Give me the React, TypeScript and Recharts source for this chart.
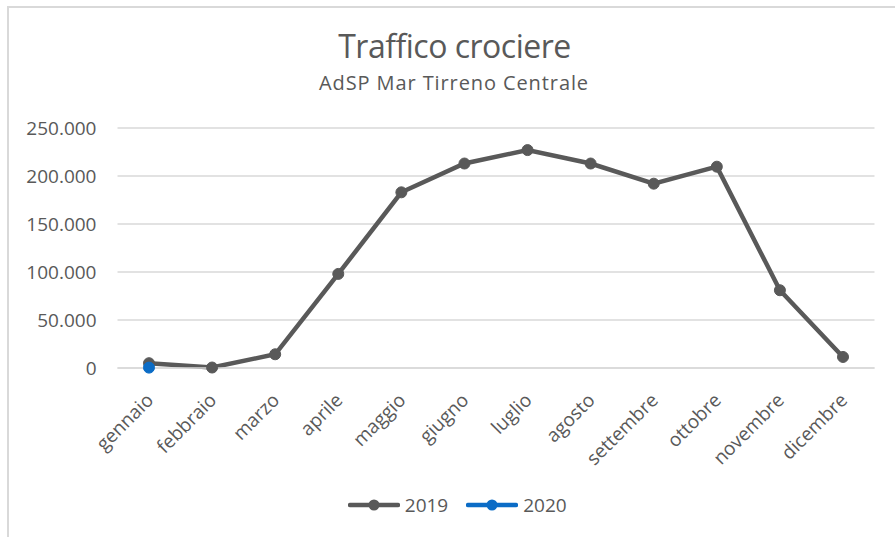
import React from 'react';
import { LineChart, Line, XAxis, YAxis, CartesianGrid, Legend } from 'recharts';

const months = ['gennaio', 'febbraio', 'marzo', 'aprile', 'maggio', 'giugno', 'luglio', 'agosto', 'settembre', 'ottobre', 'novembre', 'dicembre'];
const values2019 = [5000, 500, 14300, 98000, 183000, 213000, 227000, 213000, 192000, 209700, 81000, 11500];
const values2020: (number | null)[] = [400, null, null, null, null, null, null, null, null, null, null, null];
const yTicks = [0, 50000, 100000, 150000, 200000, 250000];
const seriesNames = ['2019', '2020'];
const colors = ['#595959', '#0B6CC6'];

const data = months.map((m, i) => ({ month: m, y2019: values2019[i], y2020: values2020[i] }));

const fmt = (v: number) => String(v).replace(/\B(?=(\d{3})+(?!\d))/g, '.');

const FONT = '"Open Sans", sans-serif';
const TEXT = '#595959';

const XTick = (props: any) => {
  const { x, y, payload } = props;
  return (
    <g transform={`translate(${x - 3},${y + 17})`}>
      <text x={0} y={0} dy={12} textAnchor="end" transform="rotate(-45)" fill={TEXT} fontSize={19} fontFamily={FONT}>
        {payload.value}
      </text>
    </g>
  );
};

const LegendContent = () => (
  <div style={{ height: 30, display: 'flex', justifyContent: 'center', alignItems: 'center', paddingLeft: 40, fontFamily: FONT, fontSize: 19, color: TEXT }}>
    {seriesNames.map((n, i) => (
      <div key={n} style={{ display: 'flex', alignItems: 'center', marginRight: i === 0 ? 18 : 0 }}>
        <svg width={52} height={14} style={{ marginRight: 5 }}>
          <line x1={2} y1={7} x2={50} y2={7} stroke={colors[i]} strokeWidth={4.5} strokeLinecap="round" />
          <circle cx={26} cy={7} r={5.5} fill={colors[i]} />
        </svg>
        <span>{n}</span>
      </div>
    ))}
  </div>
);

export default function App() {
  return (
    <div style={{ position: 'absolute', left: 0, top: 0, width: 895, height: 537, overflow: 'hidden', background: '#fff' }}>
      <div style={{ position: 'absolute', left: 7, top: 6, width: 920, height: 560, border: '2px solid #D9D9D9', boxSizing: 'border-box' }} />
      <div style={{ position: 'absolute', left: 254.5, width: 400, top: 27, textAlign: 'center', fontFamily: FONT, fontSize: 32, color: TEXT, lineHeight: '38px', letterSpacing: -0.5 }}>
        Traffico crociere
      </div>
      <div style={{ position: 'absolute', left: 254, width: 400, top: 70, textAlign: 'center', fontFamily: FONT, fontSize: 20, color: TEXT, lineHeight: '26px', letterSpacing: 0.9 }}>
        AdSP Mar Tirreno Centrale
      </div>
      <LineChart width={895} height={537} data={data} margin={{ top: 128, right: 20.5, left: 0, bottom: 17 }}>
        <CartesianGrid vertical={false} stroke="#D9D9D9" strokeWidth={1.5} />
        <XAxis dataKey="month" height={122} padding={{ left: 31.5, right: 31.5 }} axisLine={{ stroke: '#D9D9D9', strokeWidth: 1.5 }} tickLine={false} tick={<XTick />} interval={0} />
        <YAxis width={117.5} domain={[0, 250000]} ticks={yTicks} tickFormatter={fmt} axisLine={false} tickLine={false} tickSize={0} tickMargin={21}
          tick={{ fill: TEXT, fontSize: 19, fontFamily: FONT }} />
        <Legend verticalAlign="bottom" content={<LegendContent />} />
        <Line type="linear" dataKey="y2019" name="2019" stroke={colors[0]} strokeWidth={4.5} dot={{ r: 5.5, fill: colors[0], stroke: colors[0], strokeWidth: 1 }} isAnimationActive={false} />
        <Line type="linear" dataKey="y2020" name="2020" stroke={colors[1]} strokeWidth={4.5} dot={{ r: 5.5, fill: colors[1], stroke: colors[1], strokeWidth: 1 }} isAnimationActive={false} />
      </LineChart>
    </div>
  );
}
